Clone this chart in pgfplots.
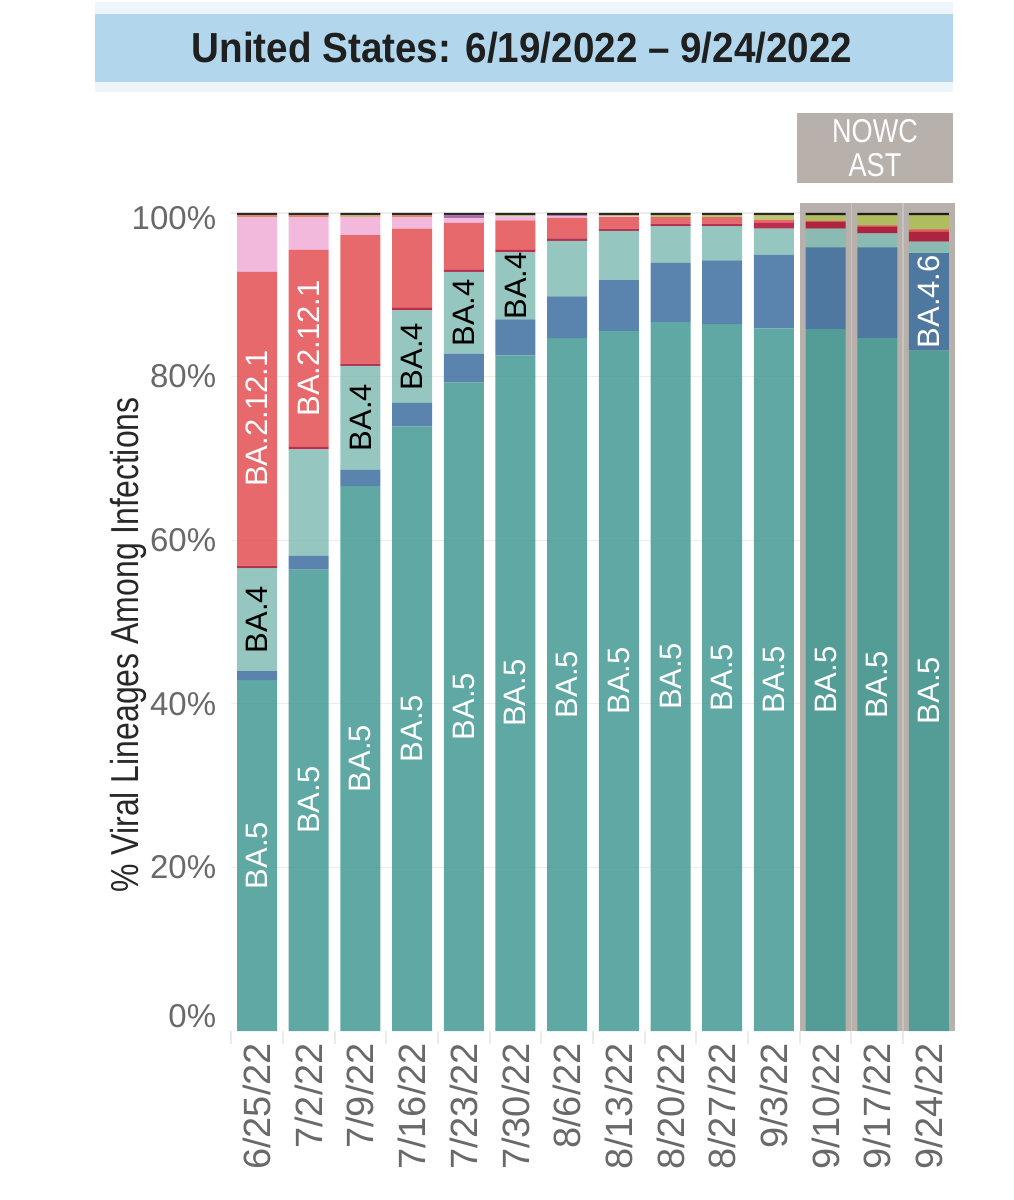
\documentclass[border=0pt]{standalone}
\usepackage{pgfplots}
\pgfplotsset{compat=1.18}
\usepackage{pgfplotstable}
\usepackage{fontspec}
\setmainfont{Liberation Sans}
\newfontfamily\condfont[FakeStretch=0.82]{Liberation Sans}
\newfontfamily\titlefont[FakeStretch=0.92]{Liberation Sans}

\definecolor{cBAfive}{RGB}{67,153,147}
\definecolor{cBAfoursix}{RGB}{61,111,160}
\definecolor{cBAfour}{RGB}{131,188,180}
\definecolor{cCrim}{RGB}{172,12,47}
\definecolor{cSalmon}{RGB}{228,79,82}
\definecolor{cPink}{RGB}{240,173,214}
\definecolor{cPurp}{RGB}{148,80,156}
\definecolor{cOrng}{RGB}{225,118,73}
\definecolor{cOlive}{RGB}{174,192,82}
\definecolor{cBlk}{RGB}{10,5,1}
\definecolor{nowgray}{RGB}{184,176,171}
\definecolor{nowsep}{RGB}{201,195,191}
\definecolor{titleblue}{RGB}{178,215,237}
\definecolor{titlepale}{RGB}{238,245,251}
\definecolor{tickgray}{RGB}{105,105,105}
\definecolor{labdark}{RGB}{40,40,40}

\pgfplotstableread{
x ba5 ba46 ba4 crim ba2121 ba2 purp orng olive blk
0  42.9 1.1  12.6 0.3 35.9 6.7 0   0.2 0    0.3
1  56.4 1.7  13.0 0.3 24.1 4.0 0   0.2 0    0.3
2  66.6 2.0  12.7 0.3 15.7 2.2 0   0.1 0.1  0.3
3  73.9 2.9  11.3 0.3 9.7  1.4 0   0.2 0    0.3
4  79.3 3.5  10.0 0.3 5.7  0.6 0.3 0   0    0.3
5  82.6 4.4  8.2  0.3 3.6  0.5 0   0   0.1  0.3
6  84.7 5.1  6.8  0.3 2.5  0.2 0.1 0   0    0.3
7  85.6 6.2  6.0  0.3 1.4  0.1 0   0   0.1  0.3
8  86.7 7.2  4.5  0.3 0.8  0   0   0   0.2  0.3
9  86.4 7.8  4.2  0.3 0.8  0   0   0   0.2  0.3
10 85.9 9.0  3.2  0.7 0.4  0   0   0   0.5  0.3
11 85.8 10.0 2.3  0.8 0.15 0   0   0   0.65 0.3
12 84.7 11.1 1.7  0.8 0.2  0   0   0   1.2  0.3
13 83.2 11.9 1.4  1.2 0.3  0   0   0   1.7  0.3
}\data

\begin{document}
\begin{tikzpicture}
\path[use as bounding box] (0,0) rectangle (506.5pt,600pt);
% title band
\fill[titlepale] (47.5pt,554pt) rectangle (476.5pt,599pt);
\fill[titleblue] (47.5pt,559pt) rectangle (476.5pt,593pt);
\node[font=\titlefont\bfseries\fontsize{21}{24}\selectfont, text=black!88] at (261pt,576pt) {United States: 6/19/2022 – 9/24/2022};
% nowcast label
\fill[nowgray] (398.5pt,508.5pt) rectangle (476.5pt,543.5pt);
\node[font=\condfont\fontsize{16.5}{18}\selectfont, text=white, align=center, inner sep=0pt] at (437.5pt,526pt) {NOWC\\[-1pt]AST};
% y label
\node[rotate=90, font=\condfont\fontsize{19.5}{22}\selectfont, text=labdark] at (64pt,277.5pt) {\% Viral Lineages Among Infections};

% grid and nowcast shading behind the bars (same frame as the axis: x unit = one category, y unit = 1%)
\begin{scope}[shift={(115.6pt,84.5pt)}, x=25.843pt, y=4.09pt]
\foreach \v in {20,40,60,80,100} \draw[black!7, line width=0.6pt] (0,\v) -- (14,\v);
\fill[nowgray] (11.004,0) rectangle (14,101.2);
\draw[nowsep, line width=0.8pt] (12,0) -- (12,101.2);
\draw[nowsep, line width=0.8pt] (13,0) -- (13,101.2);
\end{scope}

\begin{axis}[
  at={(115.6pt,84.5pt)}, anchor=south west,
  scale only axis, width=361.8pt, height=409pt,
  xmin=-0.5, xmax=13.5, ymin=0, ymax=100,
  ybar stacked, bar width=20pt,
  clip=false,
  axis line style={draw=none},
  xtick={0,...,13},
  xticklabels={6/25/22,7/2/22,7/9/22,7/16/22,7/23/22,7/30/22,8/6/22,8/13/22,8/20/22,8/27/22,9/3/22,9/10/22,9/17/22,9/24/22},
  minor xtick={-0.5,0.5,...,12.5},
  ytick={0,20,40,60,80,100},
  yticklabels={\raisebox{15pt}{0\%},20\%,40\%,60\%,80\%,\raisebox{-2.5pt}[\height][\depth]{100\%}},
  tick align=outside,
  xtick pos=bottom, ytick pos=left,
  major tick length=0pt,
  minor tick length=6.5pt,
  minor tick style={color=black!8, line width=1pt},
  ticklabel style={text=tickgray},
  yticklabel style={xshift=-4pt, font=\fontsize{16.5}{18}\selectfont},
  xticklabel shift=2.5pt,
  xticklabel style={rotate=90, anchor=east, font=\fontsize{19}{21}\selectfont},
  every axis plot/.append style={draw=none, fill opacity=0.85},
]
\addplot[fill=cBAfive] table[x=x,y=ba5] {\data};
\addplot[fill=cBAfoursix] table[x=x,y=ba46] {\data};
\addplot[fill=cBAfour] table[x=x,y=ba4] {\data};
\addplot[fill=cCrim] table[x=x,y=crim] {\data};
\addplot[fill=cSalmon] table[x=x,y=ba2121] {\data};
\addplot[fill=cPink] table[x=x,y=ba2] {\data};
\addplot[fill=cPurp] table[x=x,y=purp] {\data};
\addplot[fill=cOrng] table[x=x,y=orng] {\data};
\addplot[fill=cOlive] table[x=x,y=olive] {\data};
\addplot[fill=cBlk] table[x=x,y=blk] {\data};
\end{axis}

% segment labels (same frame as the axis, category i at i+0.5)
\begin{scope}[shift={(115.6pt,84.5pt)}, x=25.843pt, y=4.09pt,
  bl/.style={rotate=90, font=\fontsize{15.5}{17}\selectfont, inner sep=0pt}]
\node[bl, text=white] at (0.5,21.45) {BA.5};
\node[bl, text=black] at (0.5,50.3) {BA.4};
\node[bl, text=white] at (0.5,74.85) {BA.2.12.1};
\node[bl, text=white] at (1.5,28.2) {BA.5};
\node[bl, text=white] at (1.5,83.45) {BA.2.12.1};
\node[bl, text=white] at (2.5,33.3) {BA.5};
\node[bl, text=black] at (2.5,75.0) {BA.4};
\node[bl, text=white] at (3.5,36.95) {BA.5};
\node[bl, text=black] at (3.5,82.45) {BA.4};
\node[bl, text=white] at (4.5,39.65) {BA.5};
\node[bl, text=black] at (4.5,87.8) {BA.4};
\node[bl, text=white] at (5.5,41.3) {BA.5};
\node[bl, text=black] at (5.5,91.1) {BA.4};
\node[bl, text=white] at (6.5,42.35) {BA.5};
\node[bl, text=white] at (7.5,42.8) {BA.5};
\node[bl, text=white] at (8.5,43.35) {BA.5};
\node[bl, text=white] at (9.5,43.2) {BA.5};
\node[bl, text=white] at (10.5,42.95) {BA.5};
\node[bl, text=white] at (11.5,42.9) {BA.5};
\node[bl, text=white] at (12.5,42.35) {BA.5};
\node[bl, text=white] at (13.5,41.6) {BA.5};
\node[bl, text=white] at (13.5,89.15) {BA.4.6};
\end{scope}
\end{tikzpicture}
\end{document}
